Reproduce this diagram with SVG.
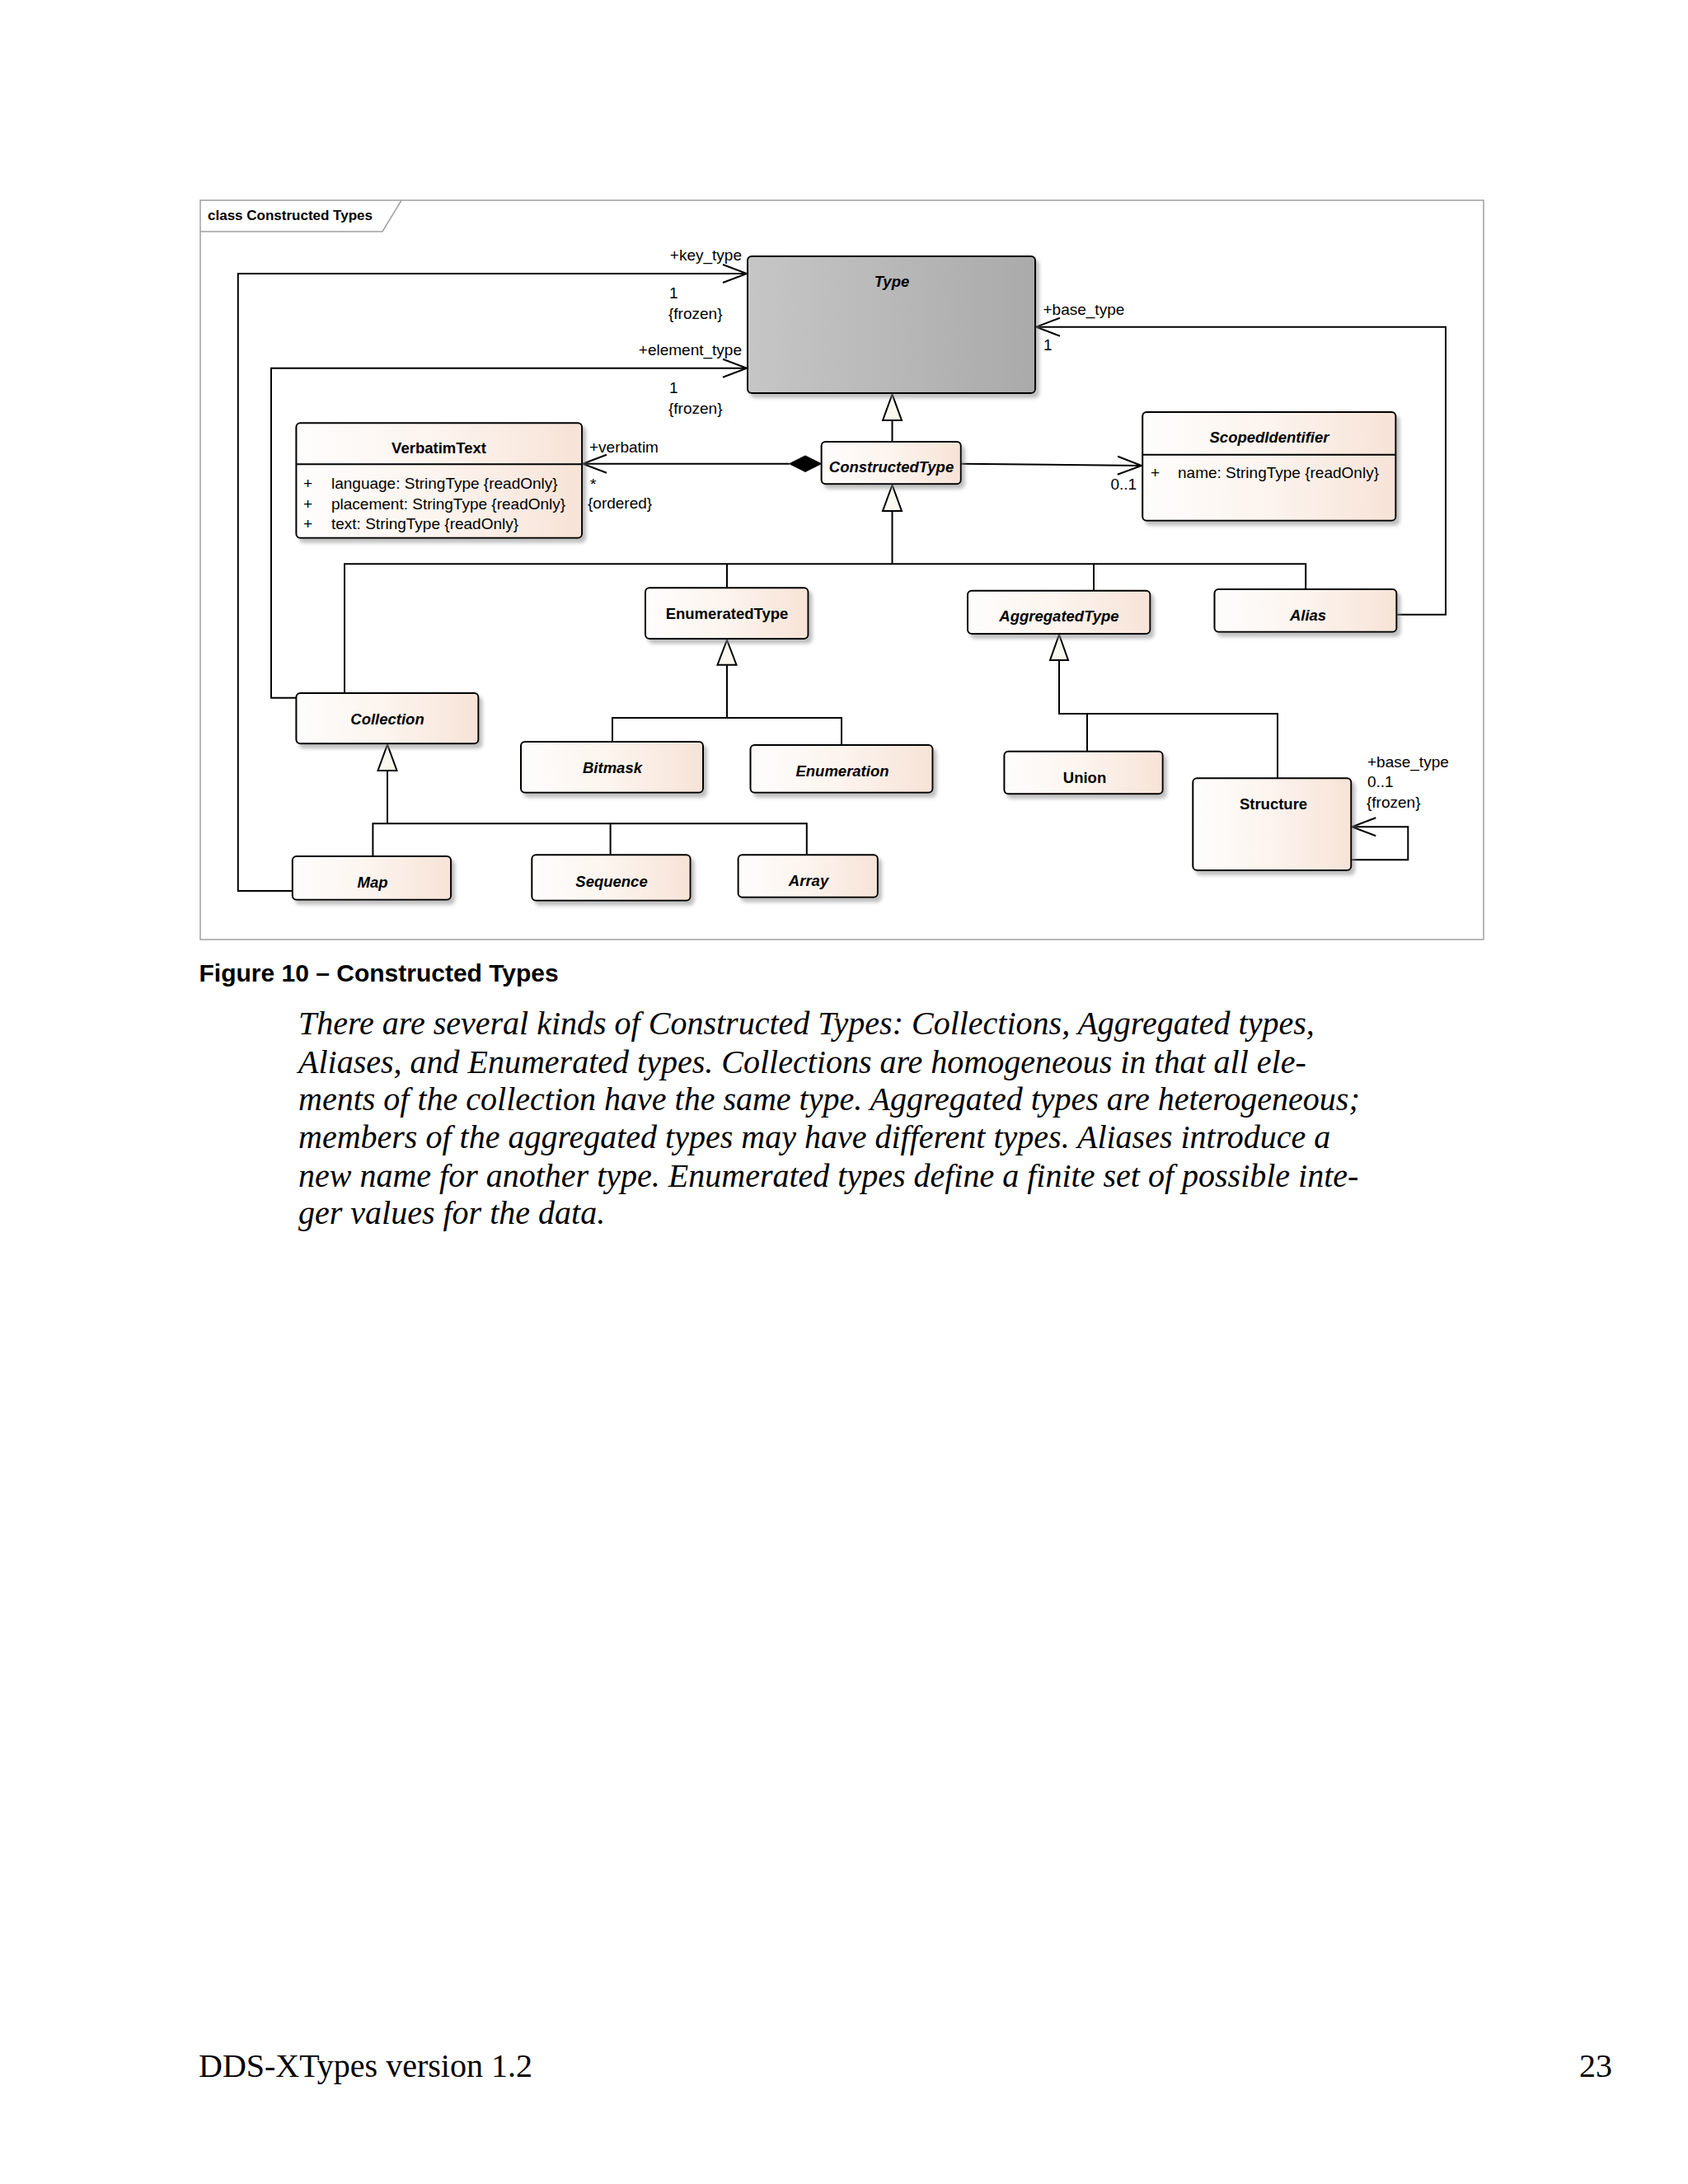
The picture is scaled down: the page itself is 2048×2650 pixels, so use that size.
<svg xmlns="http://www.w3.org/2000/svg" width="2048" height="2650" viewBox="0 0 2048 2650">
<style>
.n{stroke:#000;stroke-width:2;fill:url(#ng);filter:url(#sh)}
.t{font-family:"Liberation Sans",Arial,sans-serif;font-size:18.5px;font-weight:bold;text-anchor:middle;fill:#000}
.ti{font-style:italic}
.a{font-family:"Liberation Sans",Arial,sans-serif;font-size:19px;fill:#000}
.e{text-anchor:end}
.c{fill:none;stroke:#000;stroke-width:2}
.g{fill:#fbf8ef;stroke:#000;stroke-width:2}
.body{font-family:"Liberation Serif","Times New Roman",serif;font-size:40px;font-style:italic;fill:#000}
</style>
<defs>
<linearGradient id="ng" x1="0" y1="0" x2="1" y2="0">
<stop offset="0" stop-color="#fefdfc"/>
<stop offset="0.5" stop-color="#fcf4ee"/>
<stop offset="1" stop-color="#f7e3d7"/>
</linearGradient>
<linearGradient id="tg" x1="0" y1="0" x2="1" y2="0">
<stop offset="0" stop-color="#c6c6c6"/>
<stop offset="1" stop-color="#aaaaaa"/>
</linearGradient>
<filter id="sh" x="-10%" y="-10%" width="125%" height="130%">
<feDropShadow dx="4" dy="5" stdDeviation="2" flood-color="#8a8a8a" flood-opacity="0.55"/>
</filter>
<marker id="open" markerUnits="userSpaceOnUse" viewBox="-31 -13 33 26" markerWidth="33" markerHeight="26" refX="0" refY="0" orient="auto" overflow="visible">
<path d="M -29 -11 L 0 0 L -29 11" fill="none" stroke="#000" stroke-width="2"/>
</marker>
</defs>
<rect width="2048" height="2650" fill="#ffffff"/>

<g id="frame">
<rect x="243" y="243" width="1557" height="897" fill="#ffffff" stroke="#a0a0a0" stroke-width="1.5"/>
<path d="M 243 281 H 464 L 487 243" fill="none" stroke="#a0a0a0" stroke-width="1.5"/>
<text x="252" y="267" font-family="Liberation Sans,Arial,sans-serif" font-size="17" font-weight="bold">class Constructed Types</text>
</g>

<g id="connectors">
<path class="c" d="M 354.8 1081 H 288.8 V 332 H 906" marker-end="url(#open)"/>
<path class="c" d="M 359.4 846.7 H 329 V 446.7 H 906" marker-end="url(#open)"/>
<path class="c" d="M 1694.4 745.7 H 1754 V 396.7 H 1257" marker-end="url(#open)"/>
<path class="c" d="M 957.6 562.7 H 707" marker-end="url(#open)"/>
<polygon points="957.6,562.7 977,553 996.6,562.7 977,572.4" fill="#000" stroke="#000" stroke-width="1"/>
<path class="c" d="M 1165.8 562.7 L 1385 565" marker-end="url(#open)"/>
<path class="c" d="M 1639.3 1043.3 H 1708.3 V 1003.3 H 1640.3" marker-end="url(#open)"/>

<path class="c" d="M 1082.5 536 V 510"/>
<polygon class="g" points="1082.5,478.5 1071,510 1094,510"/>

<path class="c" d="M 1082.5 620 V 684.3 M 418 841 V 684.3 H 1584.2 V 715 M 882 684.3 V 713 M 1327 684.3 V 716.7"/>
<polygon class="g" points="1082.5,588.5 1071,620 1094,620"/>

<path class="c" d="M 882 806.7 V 871 M 743 900 V 871 H 1021 V 904"/>
<polygon class="g" points="882,776.5 870.5,806.7 893.5,806.7"/>

<path class="c" d="M 1285 801 V 866 H 1550 V 944.3 M 1319 866 V 911.7"/>
<polygon class="g" points="1285,770 1274,801 1296,801"/>

<path class="c" d="M 470 935 V 999.3 M 452.4 1039 V 999.3 H 978.8 V 1037.3 M 740.6 999.3 V 1037.3"/>
<polygon class="g" points="470,903.5 458.5,935 481.5,935"/>

<text class="a e" x="900" y="316">+key_type</text>
<text class="a" x="812" y="361.5">1</text>
<text class="a" x="811" y="386.5">{frozen}</text>
<text class="a e" x="900" y="431">+element_type</text>
<text class="a" x="812" y="476.5">1</text>
<text class="a" x="811" y="501.5">{frozen}</text>
<text class="a" x="715" y="548.5">+verbatim</text>
<text class="a" x="716" y="594">*</text>
<text class="a" x="713" y="616.5">{ordered}</text>
<text class="a" x="1265.5" y="381.5">+base_type</text>
<text class="a" x="1266" y="425">1</text>
<text class="a" x="1347.5" y="594">0..1</text>
<text class="a" x="1659" y="930.5">+base_type</text>
<text class="a" x="1659" y="955">0..1</text>
<text class="a" x="1658" y="980">{frozen}</text>
</g>

<g id="Type">
<rect x="907" y="311" width="349" height="166" rx="5" fill="url(#tg)" stroke="#000" stroke-width="2" filter="url(#sh)"/>
<text class="t ti" x="1082" y="348">Type</text>
</g>

<g id="VerbatimText">
<rect class="n" x="359.4" y="513.3" width="346.7" height="139.4" rx="5"/>
<line x1="359.4" y1="563.3" x2="706.1" y2="563.3" stroke="#000" stroke-width="2"/>
<text class="t" x="532.5" y="550">VerbatimText</text>
<text class="a" x="368" y="593">+</text>
<text class="a" x="402" y="593">language: StringType {readOnly}</text>
<text class="a" x="368" y="617.5">+</text>
<text class="a" x="402" y="617.5">placement: StringType {readOnly}</text>
<text class="a" x="368" y="642">+</text>
<text class="a" x="402" y="642">text: StringType {readOnly}</text>
</g>

<g id="ConstructedType">
<rect class="n" x="996.6" y="536" width="169.2" height="51.3" rx="5"/>
<text class="t ti" x="1081.5" y="573">ConstructedType</text>
</g>

<g id="ScopedIdentifier">
<rect class="n" x="1386.2" y="500" width="307.2" height="131.7" rx="5"/>
<line x1="1386.2" y1="551.7" x2="1693.4" y2="551.7" stroke="#000" stroke-width="2"/>
<text class="t ti" x="1540" y="537">ScopedIdentifier</text>
<text class="a" x="1396" y="580">+</text>
<text class="a" x="1429" y="580">name: StringType {readOnly}</text>
</g>

<g id="EnumeratedType">
<rect class="n" x="783" y="713.3" width="197.5" height="61.7" rx="5"/>
<text class="t" x="882" y="751">EnumeratedType</text>
</g>

<g id="AggregatedType">
<rect class="n" x="1174" y="716.7" width="221.4" height="52.3" rx="5"/>
<text class="t ti" x="1285" y="754">AggregatedType</text>
</g>

<g id="Alias">
<rect class="n" x="1473.5" y="715" width="220.9" height="51.7" rx="5"/>
<text class="t ti" x="1587" y="753">Alias</text>
</g>

<g id="Collection">
<rect class="n" x="359.4" y="841" width="221" height="61.3" rx="5"/>
<text class="t ti" x="470" y="878.5">Collection</text>
</g>

<g id="Bitmask">
<rect class="n" x="632" y="900" width="221" height="61.7" rx="5"/>
<text class="t ti" x="743" y="938">Bitmask</text>
</g>

<g id="Enumeration">
<rect class="n" x="910.5" y="904" width="221" height="57.7" rx="5"/>
<text class="t ti" x="1022" y="942">Enumeration</text>
</g>

<g id="Union">
<rect class="n" x="1218.4" y="911.7" width="192.3" height="51.6" rx="5"/>
<text class="t" x="1316" y="950">Union</text>
</g>

<g id="Structure">
<rect class="n" x="1447.3" y="944.3" width="192" height="111.7" rx="5"/>
<text class="t" x="1545" y="981.5">Structure</text>
</g>

<g id="Map">
<rect class="n" x="354.8" y="1039" width="192.3" height="52.7" rx="5"/>
<text class="t ti" x="452" y="1077">Map</text>
</g>

<g id="Sequence">
<rect class="n" x="645.3" y="1037.3" width="192.3" height="55.4" rx="5"/>
<text class="t ti" x="742" y="1076">Sequence</text>
</g>

<g id="Array">
<rect class="n" x="895.6" y="1037.3" width="169.3" height="51.4" rx="5"/>
<text class="t ti" x="981" y="1075">Array</text>
</g>

<g id="page-text">
<text x="241.5" y="1190.5" font-family="Liberation Sans,Arial,sans-serif" font-size="30" font-weight="bold">Figure 10 – Constructed Types</text>
<text class="body" x="362" y="1255">There are several kinds of Constructed Types: Collections, Aggregated types,</text>
<text class="body" x="362" y="1301.5">Aliases, and Enumerated types. Collections are homogeneous in that all ele-</text>
<text class="body" x="362" y="1347">ments of the collection have the same type. Aggregated types are heterogeneous;</text>
<text class="body" x="362" y="1393">members of the aggregated types may have different types. Aliases introduce a</text>
<text class="body" x="362" y="1439.5">new name for another type. Enumerated types define a finite set of possible inte-</text>
<text class="body" x="362" y="1485">ger values for the data.</text>
<text x="241" y="2520" font-family="Liberation Serif,Times New Roman,serif" font-size="40">DDS-XTypes version 1.2</text>
<text x="1956" y="2520" font-family="Liberation Serif,Times New Roman,serif" font-size="40" text-anchor="end">23</text>
</g>
</svg>
